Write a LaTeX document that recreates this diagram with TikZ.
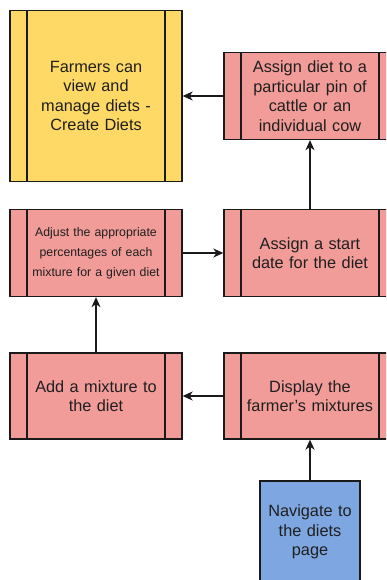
\documentclass[tikz,border=0pt]{standalone}
\usepackage{fontspec}
\setmainfont{Liberation Sans}
\usetikzlibrary{arrows.meta}
\definecolor{yellowfill}{HTML}{FFD966}
\definecolor{redfill}{HTML}{F19C99}
\definecolor{bluefill}{HTML}{7EA6E0}
\definecolor{edge}{HTML}{1A1A1A}
\definecolor{txt}{HTML}{1F1F1F}
\tikzset{
  boxbase/.style={rectangle, draw=edge, line width=1.3pt, inner sep=0pt,
    align=center, text=txt, font=\fontsize{16.3}{19.5}\selectfont},
  procbox/.style={boxbase, minimum width=172pt, minimum height=87pt, text width=138pt,
    path picture={
      \draw[edge, line width=1.3pt]
        ([xshift=17pt]path picture bounding box.north west) -- ([xshift=17pt]path picture bounding box.south west)
        ([xshift=-17pt]path picture bounding box.north east) -- ([xshift=-17pt]path picture bounding box.south east);
    }},
  startbox/.style={boxbase, fill=bluefill, minimum width=100pt, minimum height=102pt, text width=96pt},
  smalltext/.style={font=\fontsize{12.3}{20}\selectfont},
  flow/.style={draw=edge, line width=1.3pt, -{Stealth[length=10pt, width=9pt, inset=3pt]}},
}
\begin{document}
\begin{tikzpicture}[x=1pt, y=-1pt]
  \useasboundingbox (0,0) rectangle (386,580);
  \clip (0,0) rectangle (386,580);
  \fill[white] (0,0) rectangle (386,580);

  \node[procbox, fill=yellowfill, minimum height=171pt] (view) at (96,96)
    {Farmers can\\view and\\manage diets -\\Create Diets};
  \node[procbox, fill=redfill] (assign) at (310,96)
    {Assign diet to a\\particular pin of\\cattle or an\\individual cow};
  \node[procbox, fill=redfill, smalltext] (adjust) at (96,253)
    {Adjust the appropriate\\percentages of each\\mixture for a given diet};
  \node[procbox, fill=redfill] (startdate) at (310,253)
    {Assign a start\\date for the diet};
  \node[procbox, fill=redfill, minimum height=86pt] (addmix) at (96,396)
    {Add a mixture to\\the diet};
  \node[procbox, fill=redfill, minimum height=86pt] (display) at (310,396)
    {Display the\\farmer's mixtures};
  \node[startbox] (navigate) at (310,532)
    {Navigate to\\the diets\\page};

  \draw[flow] (navigate.north) -- (display.south);
  \draw[flow] (display.west) -- (addmix.east);
  \draw[flow] (addmix.north) -- (adjust.south);
  \draw[flow] (adjust.east) -- (startdate.west);
  \draw[flow] (startdate.north) -- (assign.south);
  \draw[flow] (assign.west) -- (view.east);
\end{tikzpicture}
\end{document}
